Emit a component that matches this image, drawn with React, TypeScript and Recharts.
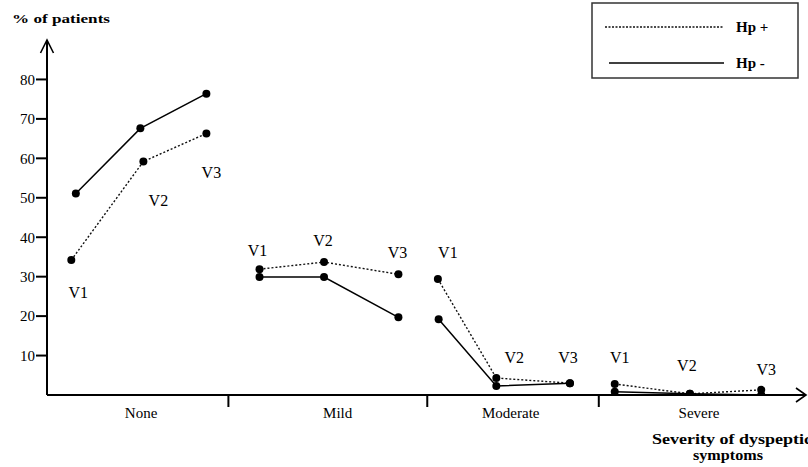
import { LineChart, Line, XAxis, YAxis, ReferenceDot, LabelList } from 'recharts'

const groups = ['None', 'Mild', 'Moderate', 'Severe']
const visits = ['V1', 'V2', 'V3']

// % of patients at V1, V2, V3 inside each severity group
const hpPosValues = [34.2, 59.2, 66.3, 31.9, 33.7, 30.6, 29.4, 4.3, 3.0, 2.8, 0.3, 1.3]
const hpNegValues = [51.1, 67.6, 76.4, 29.9, 29.9, 19.7, 19.2, 2.3, 3.0, 0.8, 0.3, 0]

// where each visit sits along the severity axis (0-100)
const hpPosX = [3.2, 12.7, 21.0, 28.0, 36.5, 46.3, 51.5, 59.2, 68.9, 74.8, 84.7, 94.1]
const hpNegX = [3.8, 12.3, 21.0, 28.0, 36.5, 46.3, 51.6, 59.2, 68.9, 74.8, 84.7, 94.1]

const groupEdges = [23.9, 50.1, 72.7]
const groupCenters = [12.4, 38.3, 61.1, 85.9]
const yTicks = [10, 20, 30, 40, 50, 60, 70, 80]

// visit label offset from the Hp+ point, [dx, dy]
const labelShift = [
  [7, 38], [15, 45], [5, 45],
  [-2, -13], [-1, -16], [-1, -16],
  [10, -21], [18, -15], [-2, -20],
  [5, -21], [-3, -23], [5, -15],
]

const font = '"Liberation Serif", "Times New Roman", serif'

function buildRows(xs: number[], values: number[]) {
  const rows: Array<{ x: number; pct: number | null; k?: number }> = []
  values.forEach((v, i) => {
    rows.push({ x: xs[i], pct: v, k: i })
    // break the line between severity groups
    if (i % 3 === 2 && i < values.length - 1) {
      rows.push({ x: groupEdges[Math.floor(i / 3)], pct: null })
    }
  })
  return rows
}

const hpPosRows = buildRows(hpPosX, hpPosValues)
const hpNegRows = buildRows(hpNegX, hpNegValues)

function SeverityTick(props: any) {
  const { x, y, payload } = props
  if (groupEdges.includes(payload.value)) {
    return <line x1={x} x2={x} y1={y} y2={y + 12} stroke="#000" strokeWidth={2} />
  }
  const g = groupCenters.indexOf(payload.value)
  return (
    <text x={x} y={y + 23} textAnchor="middle" fontSize={15} fontFamily={font} fill="#000">
      {groups[g]}
    </text>
  )
}

function VisitLabel(props: any) {
  const { x, y, value } = props
  if (value == null || y == null || x == null) return null
  const [dx, dy] = labelShift[value]
  return (
    <text x={x + dx} y={y + dy} textAnchor="middle" fontSize={16} fontFamily={font} fill="#000">
      {visits[value % 3]}
    </text>
  )
}

const upArrow = (p: any) => (
  <path
    d={`M${p.cx - 6.5},${p.cy + 13} L${p.cx},${p.cy} L${p.cx + 6.5},${p.cy + 13}`}
    fill="none"
    stroke="#000"
    strokeWidth={1.6}
  />
)

const rightArrow = (p: any) => (
  <path
    d={`M${p.cx - 10},${p.cy - 7} L${p.cx},${p.cy} L${p.cx - 10},${p.cy + 7}`}
    fill="none"
    stroke="#000"
    strokeWidth={1.6}
  />
)

function HpLegend() {
  return (
    <svg width={210} height={80} style={{ position: 'absolute', left: 590, top: 1 }}>
      <rect x={2} y={2} width={206} height={75} fill="#fff" stroke="#333" strokeWidth={1.5} />
      <line x1={15} x2={133} y1={26} y2={26} stroke="#111" strokeWidth={1.5} strokeDasharray="2 1.5" />
      <text x={146} y={31} fontSize={15} fontWeight="bold" fontFamily={font}>Hp +</text>
      <line x1={19} x2={134} y1={62} y2={62} stroke="#000" strokeWidth={1.3} />
      <text x={146} y={67} fontSize={15} fontWeight="bold" fontFamily={font}>Hp -</text>
    </svg>
  )
}

export default function App() {
  return (
    <div style={{ position: 'absolute', left: 0, top: 0, width: 808, height: 467, background: '#fff', fontFamily: font }}>
      <LineChart width={808} height={467} margin={{ top: 40, right: 2, bottom: 0, left: 0 }}>
        <XAxis
          type="number"
          dataKey="x"
          domain={[0, 100]}
          ticks={[...groupCenters, ...groupEdges].sort((a, b) => a - b)}
          interval={0}
          tick={<SeverityTick />}
          tickLine={false}
          tickSize={0}
          tickMargin={0}
          height={72}
          axisLine={{ stroke: '#000', strokeWidth: 2 }}
          allowDataOverflow
          label={{
            content: ({ viewBox }: any) => (
              <g fontFamily={font} fontWeight="bold" fill="#000">
                <text x={viewBox.x + viewBox.width - 154} y={viewBox.y + 49} fontSize={14} textLength={160} lengthAdjust="spacingAndGlyphs">
                  Severity of dyspeptic
                </text>
                <text x={viewBox.x + viewBox.width - 113} y={viewBox.y + 65} fontSize={14} textLength={70} lengthAdjust="spacingAndGlyphs">
                  symptoms
                </text>
              </g>
            ),
          }}
        />
        <YAxis
          type="number"
          domain={[0, 90]}
          ticks={yTicks}
          width={47}
          tickSize={11}
          tickMargin={1}
          tick={{ fill: '#000', fontSize: 15, fontFamily: font }}
          tickLine={{ stroke: '#000', strokeWidth: 2 }}
          axisLine={{ stroke: '#000', strokeWidth: 2 }}
          allowDataOverflow
          label={{
            content: ({ viewBox }: any) => (
              <text x={12} y={viewBox.y - 17} fontSize={13} fontWeight="bold" fontFamily={font} textLength={98} lengthAdjust="spacingAndGlyphs">
                % of patients
              </text>
            ),
          }}
        />
        <ReferenceDot x={0} y={90} r={0} ifOverflow="visible" shape={upArrow} />
        <ReferenceDot x={100} y={0} r={0} ifOverflow="visible" shape={rightArrow} />
        <Line
          data={hpPosRows}
          dataKey="pct"
          name="Hp +"
          type="linear"
          stroke="#111"
          strokeWidth={1.4}
          strokeDasharray="2 2"
          dot={{ r: 4, fill: '#000', stroke: '#000', strokeWidth: 0 }}
          connectNulls={false}
          isAnimationActive={false}
        >
          <LabelList dataKey="k" content={VisitLabel} />
        </Line>
        <Line
          data={hpNegRows}
          dataKey="pct"
          name="Hp -"
          type="linear"
          stroke="#000"
          strokeWidth={1.5}
          dot={{ r: 4, fill: '#000', stroke: '#000', strokeWidth: 0 }}
          connectNulls={false}
          isAnimationActive={false}
        />
      </LineChart>
      <HpLegend />
    </div>
  )
}
